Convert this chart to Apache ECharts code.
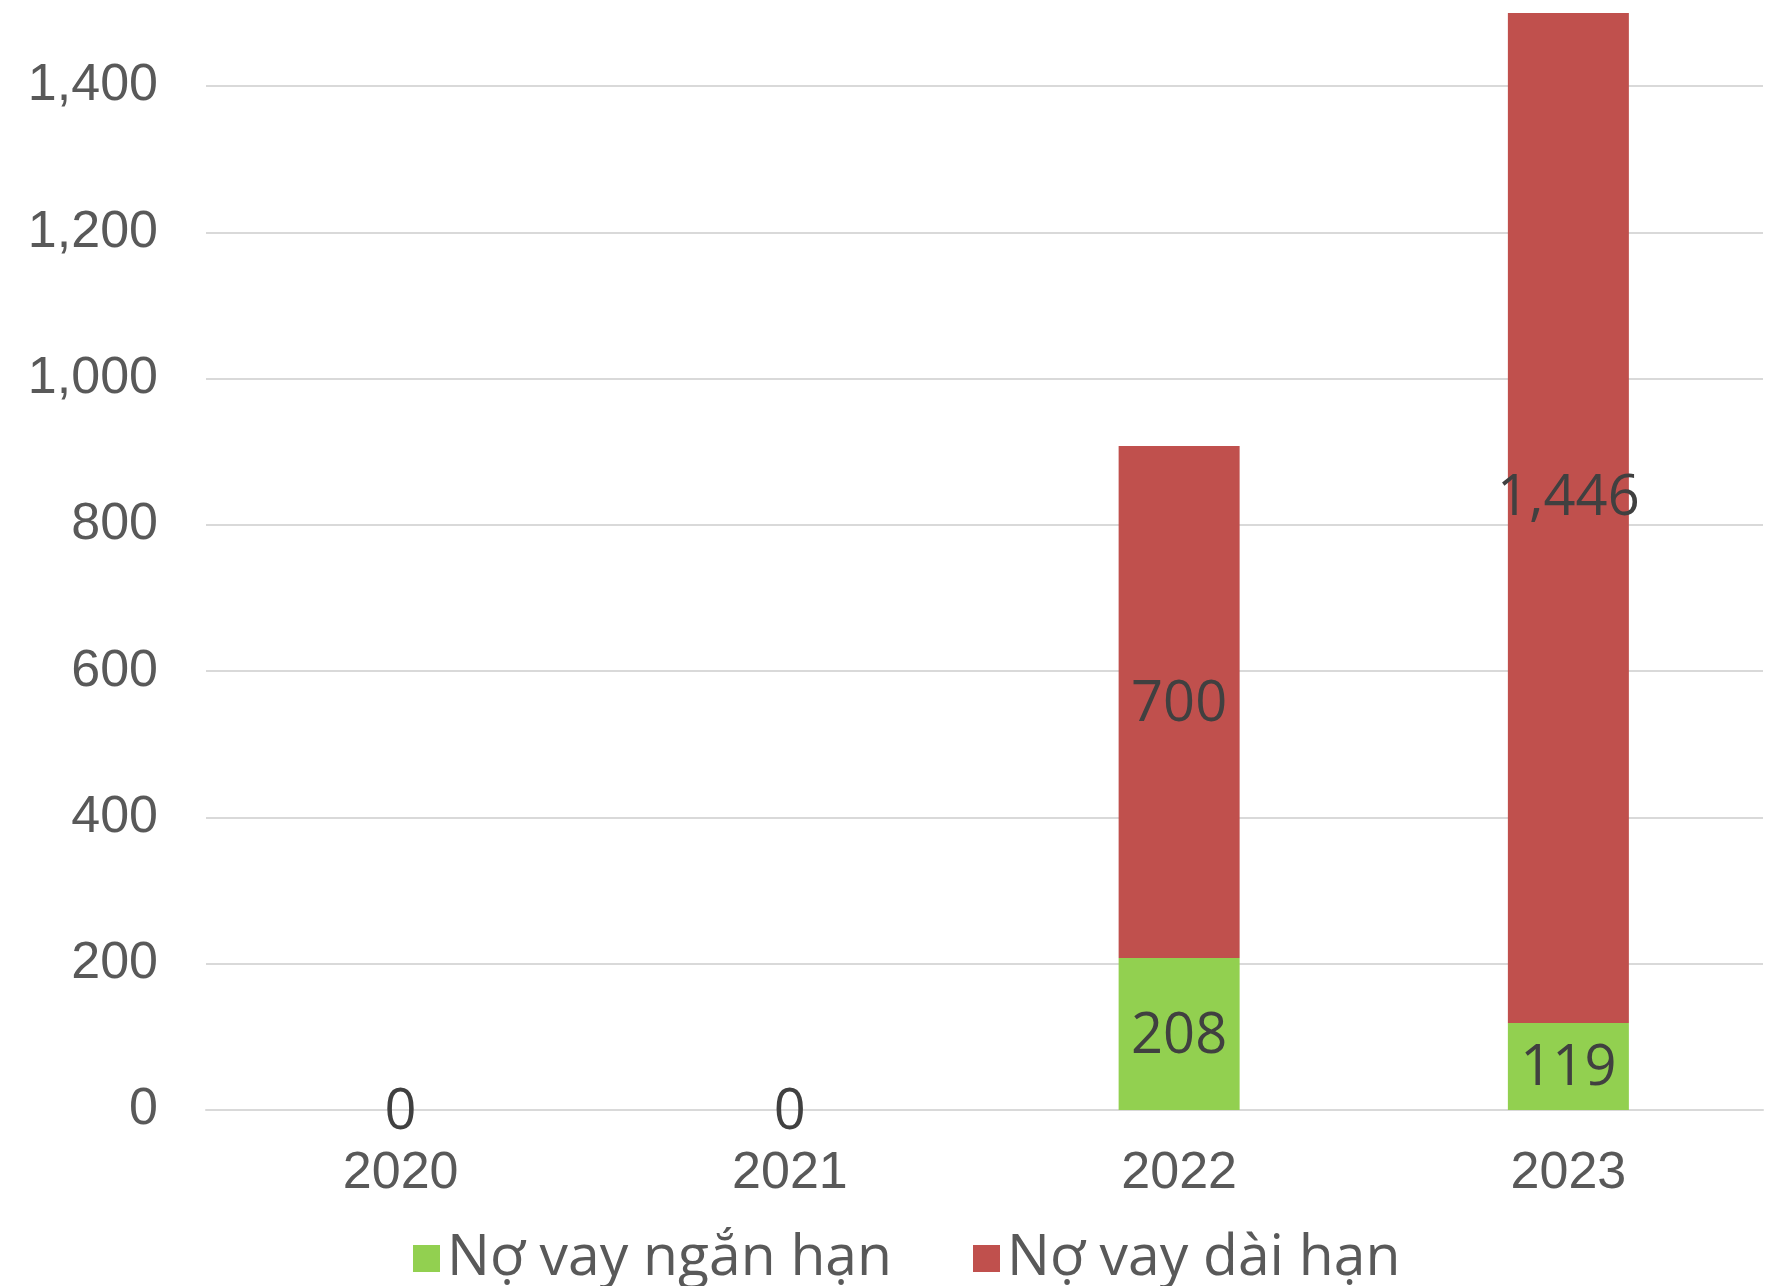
<!DOCTYPE html>
<html>
<head>
<meta charset="utf-8">
<script src="https://cdn.jsdelivr.net/npm/echarts@6/dist/echarts.min.js"></script>
<style>
html,body{margin:0;padding:0;background:#fff;}
#chart{width:1774px;height:1286px;}
</style>
</head>
<body>
<div id="chart"></div>
<script>
const categories = ['2020', '2021', '2022', '2023'];
const shortTerm = [0, 0, 208, 119];
const longTerm = [0, 0, 700, 1446];
const seriesNames = ['Nợ vay ngắn hạn', 'Nợ vay dài hạn'];
const yTicks = [0, 200, 400, 600, 800, 1000, 1200, 1400];

const chart = echarts.init(document.getElementById('chart'));
const labelFont = { fontFamily: '"Open Sans", sans-serif', fontSize: 56, color: '#404040', offset: [0, 3] };

chart.setOption({
  animation: false,
  grid: { left: 206, right: 11, top: 13, bottom: 176 },
  legend: {
    data: seriesNames,
    left: 408, top: 1225,
    itemWidth: 27, itemHeight: 27, itemGap: 81, itemStyle: {borderWidth: 0},
    icon: 'rect',
    textStyle: { fontFamily: '"Open Sans", sans-serif', fontSize: 57, color: '#595959', padding: [0,0,0,2] }
  },
  xAxis: {
    type: 'category',
    data: categories,
    axisLine: { lineStyle: { color: '#d9d9d9', width: 2 } },
    axisTick: { show: false },
    axisLabel: { fontFamily: '"Liberation Sans", Arial, sans-serif', fontSize: 52, color: '#595959', margin: 38 }
  },
  yAxis: {
    type: 'value',
    min: 0, max: 1500, interval: 200,
    axisLine: { show: false },
    axisTick: { show: false },
    splitLine: { showMaxLine: false, lineStyle: { color: '#d9d9d9', width: 2 } },
    axisLabel: {
      showMaxLabel: false,
      fontFamily: '"Liberation Sans", Arial, sans-serif', fontSize: 52, color: '#595959', margin: 48,
      formatter: v => yTicks.includes(v) ? v.toLocaleString('en-US') : ''
    }
  },
  series: [
    {
      name: seriesNames[0], type: 'bar', stack: 'total', barWidth: 121,
      itemStyle: { color: '#92D050' },
      label: Object.assign({ show: true, position: 'inside', formatter: p => p.value.toLocaleString('en-US') }, labelFont),
      data: shortTerm
    },
    {
      name: seriesNames[1], type: 'bar', stack: 'total', barWidth: 121,
      itemStyle: { color: '#C0504D' },
      label: Object.assign({ show: true, position: 'inside', formatter: p => p.value === 0 ? '' : p.value.toLocaleString('en-US') }, labelFont),
      data: longTerm.map((v, i) => i === 3 ? { value: v, label: { offset: [0, -19] } } : v)
    }
  ]
});
</script>
</body>
</html>
